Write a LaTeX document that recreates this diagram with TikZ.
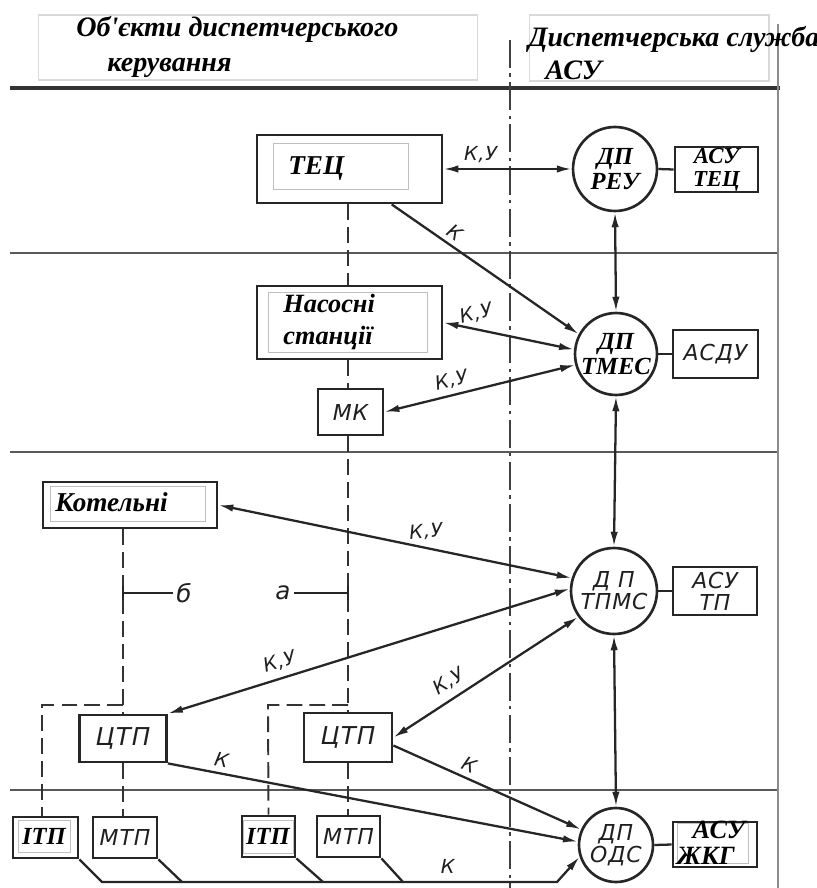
\documentclass[tikz,border=0pt]{standalone}
\usepackage{fontspec}
\setmainfont{Liberation Serif}
\newfontfamily\draftfont[LetterSpace=4]{DejaVu Sans}
\usetikzlibrary{arrows.meta,positioning}

\tikzset{
  objbox/.style={draw=black!85, line width=1.6pt, fill=white},
  pastebox/.style={draw=black!25, line width=0.5pt},
  headbox/.style={draw=black!15, line width=0.6pt},
  dpnode/.style={circle, draw=black!85, line width=1.5pt, fill=white, align=center},
  serif/.style={font=\fontsize{#1}{#1}\selectfont\bfseries\itshape, align=center},
  serif/.default=15,
  draft/.style={font=\fontsize{#1}{#1}\selectfont\draftfont\itshape, text=black!88, align=center},
  draft/.default=12,
  lbl/.style={font=\fontsize{11}{11}\selectfont\draftfont\itshape, text=black!88},
  conn/.style={line width=1.3pt, draw=black!85},
  ctrl/.style={line width=1.1pt, draw=black!80, dash pattern=on 9pt off 4pt},
  sepline/.style={line width=1.2pt, draw=black!65},
  axisline/.style={line width=1pt, draw=black!75, dash pattern=on 16pt off 3pt on 2pt off 3pt},
}

\begin{document}
\begin{tikzpicture}[x=0.02cm, y=-0.02cm, >={Latex[length=8.5pt,width=4.2pt]},
    every node/.style={inner sep=0pt}]
  \useasboundingbox (0,0) rectangle (817,888);

  % field lines
  \draw[line width=2.2pt, black!80] (10,88) -- (780,88);
  \draw[sepline] (10,253) -- (778,253);
  \draw[sepline] (10,452) -- (778,452);
  \draw[sepline] (10,790) -- (778,790);
  \draw[line width=0.8pt, black!45] (778,24) -- (778,888);
  \draw[axisline] (510,40) -- (510,888);

  % header
  \node[headbox, minimum width=8.8cm, minimum height=1.3cm] (hdl) at (258,47.5) {};
  \node[serif=16, anchor=base west] (hdlt1) at (76,37) {Об\textquotesingle єкти диспетчерського};
  \node[serif=16, anchor=base west] (hdlt2) at (107,72) {керування};
  \node[headbox, minimum width=4.8cm, minimum height=1.32cm] (hdr) at (649,48) {};
  \node[serif=16, anchor=base west] (hdrt1) at (528,47) {Диспетчерська служба};
  \node[serif=16, anchor=base west] (hdrt2) at (545,80) {АСУ};

  % objects
  \node[objbox, minimum width=3.7cm, minimum height=1.36cm] (tec) at (349.5,169) {};
  \node[pastebox, minimum width=2.7cm, minimum height=0.92cm] (tecin) at (340.5,166) {};
  \node[serif=15.5, anchor=west] (tect) at (288,168) {ТЕЦ};
  \node[objbox, minimum width=3.7cm, minimum height=1.46cm] (nas) at (349.5,322.5) {};
  \node[pastebox, minimum width=3.18cm, minimum height=1.2cm] (nasin) at (347.5,322) {};
  \node[serif, anchor=west, align=left] (nast) at (283,322) {Насосні\\[3pt]станції};
  \node[objbox, minimum width=1.3cm, minimum height=0.92cm, draft=12.5] (mk) at (350.5,412) {МК};
  \node[objbox, minimum width=3.48cm, minimum height=0.92cm] (kot) at (130,505) {};
  \node[pastebox, minimum width=3.1cm, minimum height=0.7cm] (kotin) at (127.5,503.5) {};
  \node[serif=15.5, anchor=west] (kott) at (55,502) {Котельні};
  \node[objbox, minimum width=1.74cm, minimum height=0.94cm, draft=14] (ctpa) at (123,738.5) {ЦТП};
  \node[objbox, minimum width=1.76cm, minimum height=0.98cm, draft=14] (ctpb) at (348,737.5) {ЦТП};
  \node[objbox, minimum width=1.3cm, minimum height=0.82cm] (itpa) at (45.5,837.5) {};
  \node[pastebox, minimum width=1.04cm, minimum height=0.64cm] (itpain) at (44,836) {};
  \node[serif=14] (itpat) at (itpain) {ІТП};
  \node[objbox, minimum width=1.28cm, minimum height=0.82cm, draft=12.5] (mtpa) at (125,837.5) {МТП};
  \node[objbox, minimum width=1.06cm, minimum height=0.82cm] (itpb) at (268.5,836.5) {};
  \node[pastebox, minimum width=1.0cm, minimum height=0.66cm] (itpbin) at (268,836.5) {};
  \node[serif=14] (itpbt) at (itpbin) {ІТП};
  \node[objbox, minimum width=1.26cm, minimum height=0.82cm, draft=12.5] (mtpb) at (348.5,836.5) {МТП};

  % dispatch posts
  \node[dpnode, minimum size=1.68cm, serif=14] (reu) at (615,169) {ДП\\РЕУ};
  \node[dpnode, minimum size=1.64cm, serif=14] (tmes) at (616,354) {ДП\\ТМЕС};
  \node[dpnode, minimum size=1.72cm, draft=12.5] (tpms) at (614,591) {Д П\\ТПМС};
  \node[dpnode, minimum size=1.48cm, draft=12.5] (ods) at (616,845) {ДП\\ОДС};
  \node[objbox, minimum width=1.66cm, minimum height=0.9cm, serif=13] (asutec) at (716.5,169.5) {АСУ\\ТЕЦ};
  \node[objbox, minimum width=1.7cm, minimum height=0.96cm, draft=12.5] (asdu) at (715.5,354) {АСДУ};
  \node[objbox, minimum width=1.68cm, minimum height=0.96cm, draft=12.5] (asutp) at (715,591) {АСУ\\ТП};
  \node[objbox, minimum width=1.68cm, minimum height=0.9cm] (asujkg) at (715,844.5) {};
  \node[pastebox, minimum width=1.42cm, minimum height=0.8cm] (asujkgin) at (712.5,843) {};
  \node[serif=15, align=left] (asujkgt) at (711,843) {\hspace{9pt}АСУ\\ЖКГ};

  % control lines
  \draw[ctrl] (tec.south -| ctpb) -- (nas.north -| ctpb);
  \draw[ctrl] (nas.south -| ctpb) -- (mk.north -| ctpb);
  \draw[ctrl] (mk.south -| ctpb) -- (ctpb.north);
  \draw[ctrl] (ctpb.south) -- (mtpb.north -| ctpb);
  \draw[ctrl] (kot.south -| ctpa) -- (ctpa.north);
  \draw[ctrl] (ctpa.south) -- (mtpa.north -| ctpa);
  \coordinate (ta) at (42,705);
  \coordinate (tb) at (268,705);
  \draw[ctrl] (ctpa.north |- ta) -- (ta) -- (ta |- itpa.north);
  \draw[ctrl] (ctpb.north |- tb) -- (tb) -- (itpb.north);

  % marks a and b
  \node[draft=14] (lb) at (184,593) {б};
  \draw[conn, line width=1pt] ([xshift=-2pt]lb.west) -- (lb.west -| ctpa) coordinate (mb);
  \draw[conn, line width=1pt] ([yshift=4pt]mb) -- ([yshift=-4pt]mb);
  \node[draft=14] (la) at (283,593) {а};
  \draw[conn, line width=1pt] ([xshift=2pt]la.east) -- (la.east -| ctpb) coordinate (ma);
  \draw[conn, line width=1pt] ([yshift=4pt]ma) -- ([yshift=-4pt]ma);

  % links
  \draw[conn, <->] (tec.east) -- node[lbl, above=3pt, pos=0.29] (l1) {К,У} (reu.west);
  \draw[conn, ->] (tec.-40) -- node[lbl, sloped, above=3pt, pos=0.3] (l2) {К} (tmes.152);
  \draw[conn, <->] (reu.south) -- (tmes.north);
  \draw[conn, <->] (nas.east) -- node[lbl, rotate=15, above=4pt, pos=0.27] (l3) {К,У} (tmes.174);
  \draw[conn, <->] (mk.east) -- node[lbl, sloped, above=3pt, pos=0.37] (l4) {К,У} (tmes.195);
  \draw[conn, <->] (tmes.south) -- (tpms.north);
  \draw[conn, <->] (kot.east) -- node[lbl, rotate=5, above=4pt, pos=0.59] (l5) {К,У} (tpms.163);
  \draw[conn, <->] (ctpa.north east) -- node[lbl, sloped, above=4pt, pos=0.29] (l6) {К,У} (tpms.177);
  \draw[conn, <->] (ctpb.east) -- node[lbl, sloped, above=4pt, pos=0.35] (l7) {К,У} (tpms.216);
  \draw[conn, <->] (tpms.south) -- (ods.north);
  \draw[conn, ->] (ctpa.south east) -- node[lbl, sloped, above=3pt, pos=0.125] (l8) {К} (ods.175);
  \draw[conn, ->] (ctpb.-10) -- node[lbl, sloped, above=3pt, pos=0.375] (l9) {К} (ods.156);

  % bus
  \coordinate (ba) at (102,882);
  \coordinate (bb) at (182,882);
  \coordinate (bc) at (323,882);
  \coordinate (bd) at (403,882);
  \coordinate (be) at (557,882);
  \draw[conn, ->] (itpa.south east) -- (ba) -- node[lbl, above=4pt, pos=0.76] (l10) {К} (be) -- (ods.198);
  \draw[conn] (mtpa.south east) -- (bb);
  \draw[conn] (itpb.south east) -- (bc);
  \draw[conn] (mtpb.south east) -- (bd);

  % posts to systems
  \draw[conn] (reu.east) -- (asutec.west);
  \draw[conn] (tmes.east) -- (asdu.west);
  \draw[conn] (tpms.east) -- (asutp.west);
  \draw[conn] (ods.east) -- (asujkg.west);
\end{tikzpicture}
\end{document}
